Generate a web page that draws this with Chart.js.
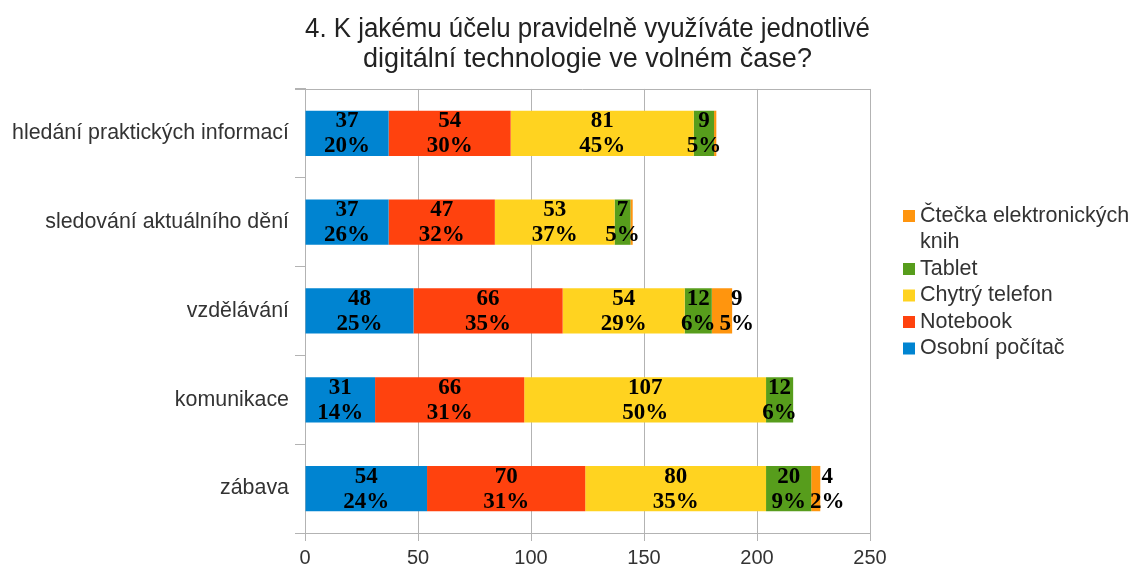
<!DOCTYPE html>
<html>
<head>
<meta charset="utf-8">
<script src="https://cdn.jsdelivr.net/npm/chart.js@4"></script>
<style>
    body { margin: 0; background: #fff; }
    #wrap { width: 1135px; height: 568px; position: relative; }
</style>
</head>
<body>
<div id="wrap"><canvas id="chart"></canvas></div>
<script>
// Chart data
const categories = ['hledání praktických informací', 'sledování aktuálního dění', 'vzdělávání', 'komunikace', 'zábava'];
const osobniPocitac = [37, 37, 48, 31, 54];
const notebook = [54, 47, 66, 66, 70];
const chytryTelefon = [81, 53, 54, 107, 80];
const tablet = [9, 7, 12, 12, 20];
const ctecka = [1, 1, 9, 0, 4];
const xTicks = [0, 50, 100, 150, 200, 250];

const seriesNames = ['Osobní počítač', 'Notebook', 'Chytrý telefon', 'Tablet', 'Čtečka elektronických knih'];
const seriesValues = [osobniPocitac, notebook, chytryTelefon, tablet, ctecka];
const seriesColors = ['#0084d1', '#ff420e', '#ffd320', '#579d1c', '#ff950e'];

const gridColor = '#b3b3b3';
const textColor = '#333333';
const sansFont = '"Liberation Sans", Arial, sans-serif';

// Row totals for the percent labels
function rowTotal(i) {
    return seriesValues.reduce((sum, s) => sum + s[i], 0);
}

// Value + percent labels on each segment
const valueLabels = {
    id: 'valueLabels',
    afterDatasetsDraw(chart) {
        const ctx = chart.ctx;
        ctx.save();
        ctx.font = 'bold 23px "Liberation Serif", "DejaVu Serif", serif';
        ctx.fillStyle = '#000';
        ctx.textAlign = 'center';
        ctx.textBaseline = 'middle';
        const lastRight = [];
        chart.data.datasets.forEach((ds, di) => {
            const meta = chart.getDatasetMeta(di);
            meta.data.forEach((bar, i) => {
                const v = ds.data[i];
                if (v < 2) return;
                const pct = Math.round(v / rowTotal(i) * 100) + '%';
                const w = Math.max(ctx.measureText(String(v)).width, ctx.measureText(pct).width);
                let x = (bar.x + bar.base) / 2;
                // push small end segments' labels off the previous label
                if (lastRight[i] !== undefined && x - w / 2 < lastRight[i] + 4) {
                    x = lastRight[i] + 4 + w / 2;
                }
                lastRight[i] = x + w / 2;
                ctx.fillText(String(v), x, bar.y - 12);
                ctx.fillText(pct, x, bar.y + 13);
            });
        });
        ctx.restore();
    }
};

// Top frame line and legend on the right
const frameAndLegend = {
    id: 'frameAndLegend',
    afterDraw(chart) {
        const ctx = chart.ctx;
        const area = chart.chartArea;
        ctx.save();
        ctx.strokeStyle = gridColor;
        ctx.lineWidth = 1;
        ctx.beginPath();
        ctx.moveTo(area.left - 10, Math.round(area.top) + 0.5);
        ctx.lineTo(area.right, Math.round(area.top) + 0.5);
        ctx.stroke();

        ctx.font = '21.5px ' + sansFont;
        ctx.textBaseline = 'middle';
        ctx.textAlign = 'left';
        const boxX = area.right + 33;
        const textX = boxX + 17;
        const maxW = 1135 - textX;
        const step = 26.5;
        let y = 216;
        for (let k = seriesNames.length - 1; k >= 0; k--) {
            ctx.fillStyle = seriesColors[k];
            ctx.fillRect(boxX, y - 6, 12, 12);
            // simple word wrap
            const words = seriesNames[k].split(' ');
            let line = '';
            const lines = [];
            words.forEach(word => {
                const test = line ? line + ' ' + word : word;
                if (ctx.measureText(test).width > maxW && line) {
                    lines.push(line);
                    line = word;
                } else {
                    line = test;
                }
            });
            lines.push(line);
            ctx.fillStyle = textColor;
            lines.forEach(l => {
                ctx.fillText(l, textX, y);
                y += step;
            });
        }
        ctx.restore();
    }
};

const datasets = seriesNames.map((name, k) => ({
    label: name,
    data: seriesValues[k],
    backgroundColor: seriesColors[k],
    borderWidth: 0,
    categoryPercentage: 1,
    barPercentage: 0.51
}));

new Chart(document.getElementById('chart'), {
    type: 'bar',
    data: { labels: categories, datasets: datasets },
    options: {
        indexAxis: 'y',
        responsive: true,
        maintainAspectRatio: false,
        animation: false,
        devicePixelRatio: 1,
        layout: { padding: { left: 0, right: 265, top: 0, bottom: 0 } },
        plugins: {
            legend: { display: false },
            tooltip: { enabled: false },
            title: {
                display: true,
                fullSize: false,
                text: ['4. K jakému účelu pravidelně využíváte jednotlivé', 'digitální technologie ve volném čase?'],
                color: '#222',
                font: { family: sansFont, size: 27, weight: 'normal', lineHeight: 1.11 },
                padding: { top: 15, bottom: 14 }
            }
        },
        scales: {
            x: {
                stacked: true,
                min: 0,
                max: 250,
                afterBuildTicks(scale) {
                    scale.ticks = xTicks.map(v => ({ value: v }));
                },
                afterFit(scale) { scale.height = 35; },
                grid: { color: gridColor, tickLength: 8, tickColor: gridColor },
                border: { color: gridColor },
                ticks: {
                    color: textColor,
                    padding: 5,
                    font: { family: sansFont, size: 20 }
                }
            },
            y: {
                stacked: true,
                afterFit(scale) { scale.width = 305; },
                grid: { offset: true, drawOnChartArea: false, tickLength: 10, color: gridColor, tickColor: gridColor },
                border: { color: gridColor },
                ticks: {
                    color: textColor,
                    padding: 6,
                    font: { family: sansFont, size: 21.4 }
                }
            }
        }
    },
    plugins: [valueLabels, frameAndLegend]
});
</script>
</body>
</html>
